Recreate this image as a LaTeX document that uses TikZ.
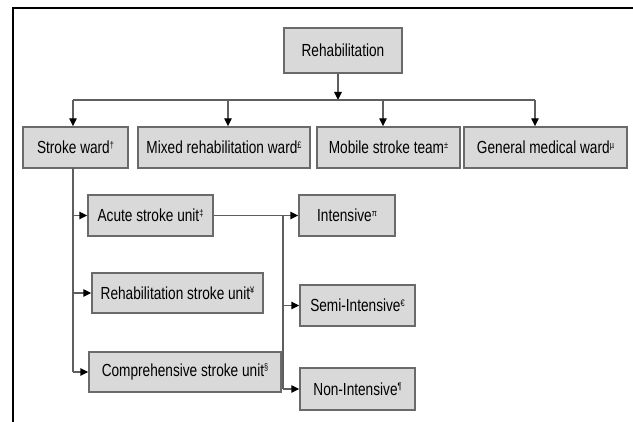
\documentclass[tikz,border=0pt]{standalone}
\usepackage{fontspec}
\setmainfont{Liberation Sans}[FakeStretch=0.78]
\usetikzlibrary{
  arrows.meta,
  positioning,
}
\newcommand{\sups}[1]{\raisebox{0.62ex}{\fontsize{9.5}{10}\selectfont #1}}
\definecolor{boxfill}{HTML}{D9D9D9}
\definecolor{boxline}{HTML}{6A6A6A}
\definecolor{linkline}{HTML}{5E5E5E}
\tikzset{
  x=1pt, y=-1pt,
  font=\fontsize{17.5}{20}\selectfont,
  my box/.style={
    draw=boxline,
    fill=boxfill,
    line width=1.4pt,
    inner sep=0pt,
    minimum height=41pt,
    rectangle
  },
  my link/.style={
    draw=linkline,
    line width=1.4pt
  },
  my arrow/.style={
    my link,
    -{Triangle[length=8pt,width=7.5pt,color=black]}
  },
  frame/.style={
    draw=black,
    line width=1.8pt
  }
}

\begin{document}
\begin{tikzpicture}
\useasboundingbox (0,0) rectangle (633,422);
\draw[frame] (633,8) -- (13,8) -- (13,422);

% top level
\node[my box, minimum width=118pt, minimum height=45pt] (rehab) at (343,50.5) {Rehabilitation};

% settings
\node[my box, minimum width=105pt] (stroke)  at (75.5,147.5) {Stroke ward\sups{†}};
\node[my box, minimum width=172pt] (mixed)   at (224,147.5)  {Mixed rehabilitation ward\sups{£}};
\node[my box, minimum width=143pt] (mobile)  at (388.5,147.5) {Mobile stroke team\sups{±}};
\node[my box, minimum width=163pt] (general) at (545.5,147.5) {General medical ward\sups{µ}};

% stroke units
\node[my box, minimum width=125pt] (acute) at (150.5,215.5) {Acute stroke unit\sups{‡}};
\node[my box, minimum width=171pt, minimum height=40pt] (rsu) at (177.5,293) {Rehabilitation stroke unit\sups{¥}};
\node[my box, minimum width=192pt, minimum height=40pt] (csu) at (185,372) {Comprehensive stroke unit\sups{§}};

% levels of care
\node[my box, minimum width=96pt]  (intensive) at (347,215.5) {Intensive\sups{π}};
\node[my box, minimum width=115pt] (semi)      at (357.5,305.5) {Semi-Intensive\sups{€}};
\node[my box, minimum width=115pt, minimum height=42pt] (non) at (357.5,389) {Non-Intensive\sups{¶}};

% bus below Rehabilitation
\coordinate (bus) at (338,100);
\foreach \n/\x in {stroke/73, mixed/228, mobile/383, general/535}
  \coordinate (b-\n) at (\x,100);
\draw[my arrow] (rehab.south -| bus) -- (bus);
\draw[my link] (b-stroke) -- (b-general);
\foreach \n in {stroke, mixed, mobile, general}
  \draw[my arrow] (b-\n) -- (b-\n |- \n.north);

% stroke ward branches
\coordinate (trunk) at (73,168);
\draw[my link] (trunk) -- (trunk |- csu.west);
\foreach \n in {acute, rsu, csu}
  \draw[my arrow] (trunk |- \n.west) -- (\n.west);

% acute stroke unit branches
\coordinate (split) at (283,215.5);
\draw[my arrow] (acute.east) -- (intensive.west);
\draw[my link] (split) -- (split |- non.west);
\foreach \n in {semi, non}
  \draw[my arrow] (split |- \n.west) -- (\n.west);
\end{tikzpicture}
\end{document}
